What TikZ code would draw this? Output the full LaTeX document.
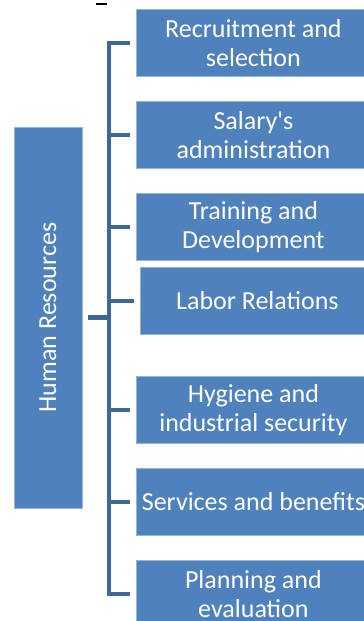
\documentclass[tikz,border=0pt]{standalone}
\usepackage{fontspec}
\setmainfont{Carlito}[Ligatures=TeXReset]
\definecolor{boxblue}{HTML}{4F81BD}
\definecolor{barblue}{HTML}{3D679B}
\tikzset{
	area/.style={rectangle, fill=boxblue, draw=boxblue!60!white, line width=0.8pt, inner sep=0pt,
		anchor=north west, minimum width=234, minimum height=67, align=center, text=white,
		font=\fontsize{26}{29}\selectfont},
	bracket/.style={draw=barblue, line width=4.5pt},
}

\begin{document}
\begin{tikzpicture}[x=1pt, y=-1pt]
			%%%%% START %%%%%
			\useasboundingbox (0, 0) rectangle (364, 621);
			
			\draw[line width=2pt] (96, 4) -- (107, 4);
			
			% main box (rotated, so its south side is on the right)
			\node[area, anchor=center, rotate=90, minimum width=381, minimum height=68] (hr) at (48, 317.5) {Human Resources};
			
			\node[area] (recruit) at (136, 9) {Recruitment and\\selection};
			\node[area] (salary) at (136, 101) {Salary's\\administration};
			\node[area] (training) at (136, 193) {Training and\\Development};
			\node[area] (labor) at (140, 267) {Labor Relations};
			\node[area] (hygiene) at (136, 376) {Hygiene and\\industrial security};
			\node[area] (services) at (136, 468) {Services and benefits};
			\node[area] (planning) at (136, 560) {Planning and\\evaluation};
			
			\coordinate (spine) at (109, 0);
			
			\draw[bracket] ([xshift=-6]recruit.west) -| (spine |- planning.west) -- ([xshift=-6]planning.west);
			\draw[bracket] (spine |- salary.west) -- ([xshift=-6]salary.west);
			\draw[bracket] (spine |- training.west) -- ([xshift=-6]training.west);
			\draw[bracket] (spine |- labor.west) -- ([xshift=-6]labor.west);
			\draw[bracket] (spine |- hygiene.west) -- ([xshift=-6]hygiene.west);
			\draw[bracket] (spine |- services.west) -- ([xshift=-6]services.west);
			\draw[bracket] ([xshift=6]hr.south) -- (spine |- hr.south);
			%%%%% END %%%%%
\end{tikzpicture}
\end{document}
